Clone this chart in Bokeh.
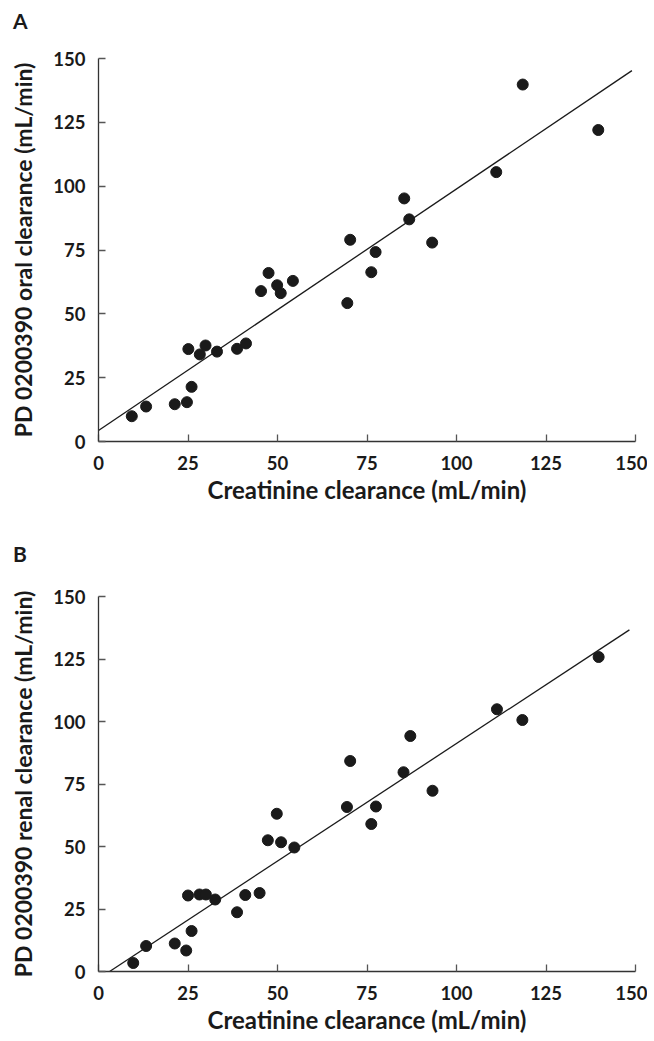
from bokeh.plotting import figure
from bokeh.layouts import column
from bokeh.models import FixedTicker, Range1d, Div
from bokeh.embed import file_html
from bokeh.resources import INLINE

# ---- data ----
creat_a = [9.3, 13.3, 21.3, 24.7, 26.0, 25.1, 28.3, 29.9, 33.1, 38.7, 41.2, 45.4, 47.5,
           49.9, 50.9, 54.3, 69.5, 70.3, 76.2, 77.4, 85.4, 86.8, 93.2, 111.1, 118.5, 139.6]
oral_cl = [9.9, 13.7, 14.6, 15.4, 21.4, 36.2, 34.1, 37.6, 35.2, 36.3, 38.4, 58.9, 66.0,
           61.2, 58.1, 62.9, 54.2, 79.0, 66.3, 74.2, 95.2, 87.0, 77.9, 105.5, 139.8, 122.0]

creat_b = [9.7, 13.3, 21.3, 24.5, 26.0, 25.0, 28.2, 30.0, 32.6, 38.7, 41.0, 45.0, 47.3,
           49.8, 51.0, 54.7, 69.4, 70.3, 76.2, 77.5, 85.2, 87.1, 93.3, 111.3, 118.4, 139.7]
renal_cl = [3.4, 10.2, 11.2, 8.4, 16.2, 30.4, 30.8, 30.8, 28.8, 23.7, 30.6, 31.4, 52.5,
            63.1, 51.7, 49.6, 65.8, 84.2, 59.0, 66.0, 79.7, 94.2, 72.3, 104.9, 100.6, 125.8]

# regression lines (intercept, slope, x start, x end)
fit_a = (4.3, 0.946, 0.0, 149.0)
fit_b = (-2.9, 0.941, 3.1, 148.3)

ticks = [0, 25, 50, 75, 100, 125, 150]
x_title = "Creatinine clearance (mL/min)"
y_title_a = "PD 0200390 oral clearance (mL/min)"
y_title_b = "PD 0200390 renal clearance (mL/min)"

FONT = "Lato"


def panel(xs, ys, fit, ytitle, frame_h, b_top, b_bottom):
    p = figure(frame_width=537, frame_height=frame_h,
               min_border_left=98, min_border_right=12,
               min_border_top=b_top, min_border_bottom=b_bottom,
               x_range=Range1d(0, 150), y_range=Range1d(0, 150),
               output_backend="svg", toolbar_location=None,
               background_fill_color="white", border_fill_color="white")
    p.outline_line_color = None
    p.grid.visible = False

    for ax in (p.xaxis[0], p.yaxis[0]):
        ax.ticker = FixedTicker(ticks=ticks)
        ax.axis_line_color = "#333333"
        ax.axis_line_width = 1.3
        ax.major_tick_line_color = "#555555"
        ax.major_tick_line_width = 1.3
        ax.major_tick_in = 7
        ax.major_tick_out = 0
        ax.minor_tick_line_color = None
        ax.major_label_text_font = FONT
        ax.major_label_text_font_style = "bold"
        ax.major_label_text_font_size = "18.5px"
        ax.major_label_text_color = "#1a1a1a"
        ax.axis_label_text_font = FONT
        ax.axis_label_text_font_style = "bold"
        ax.axis_label_text_color = "#1a1a1a"
    p.xaxis.axis_label = x_title
    p.yaxis.axis_label = ytitle
    p.xaxis.axis_label_text_font_size = "24px"
    p.yaxis.axis_label_text_font_size = "23px"
    p.xaxis.major_label_standoff = 14
    p.yaxis.major_label_standoff = 13
    p.xaxis.axis_label_standoff = 2
    p.yaxis.axis_label_standoff = 13

    b0, b1, x0, x1 = fit
    p.line([x0, x1], [b0 + b1 * x0, b0 + b1 * x1], line_color="#1a1a1a", line_width=1.3)
    p.scatter(xs, ys, size=11, fill_color="#1a1a1a", line_color="#1a1a1a")
    return p


def letter_div(letter, pad_top):
    return Div(text=letter, width=640, height=30, margin=0,
               styles={"font-family": FONT, "font-weight": "bold", "font-size": "21px",
                       "line-height": "21px", "padding-top": f"{pad_top}px",
                       "padding-left": "13px", "color": "#1a1a1a",
                       "box-sizing": "border-box"})


div_a = letter_div("A", 10)
pa = panel(creat_a, oral_cl, fit_a, y_title_a, 383, 28, 100)
div_b = letter_div("B", 2)
pb = panel(creat_b, renal_cl, fit_b, y_title_b, 375, 25, 62)

layout = column(div_a, pa, div_b, pb, spacing=0)
open("out.html", "w").write(file_html(layout, INLINE))
